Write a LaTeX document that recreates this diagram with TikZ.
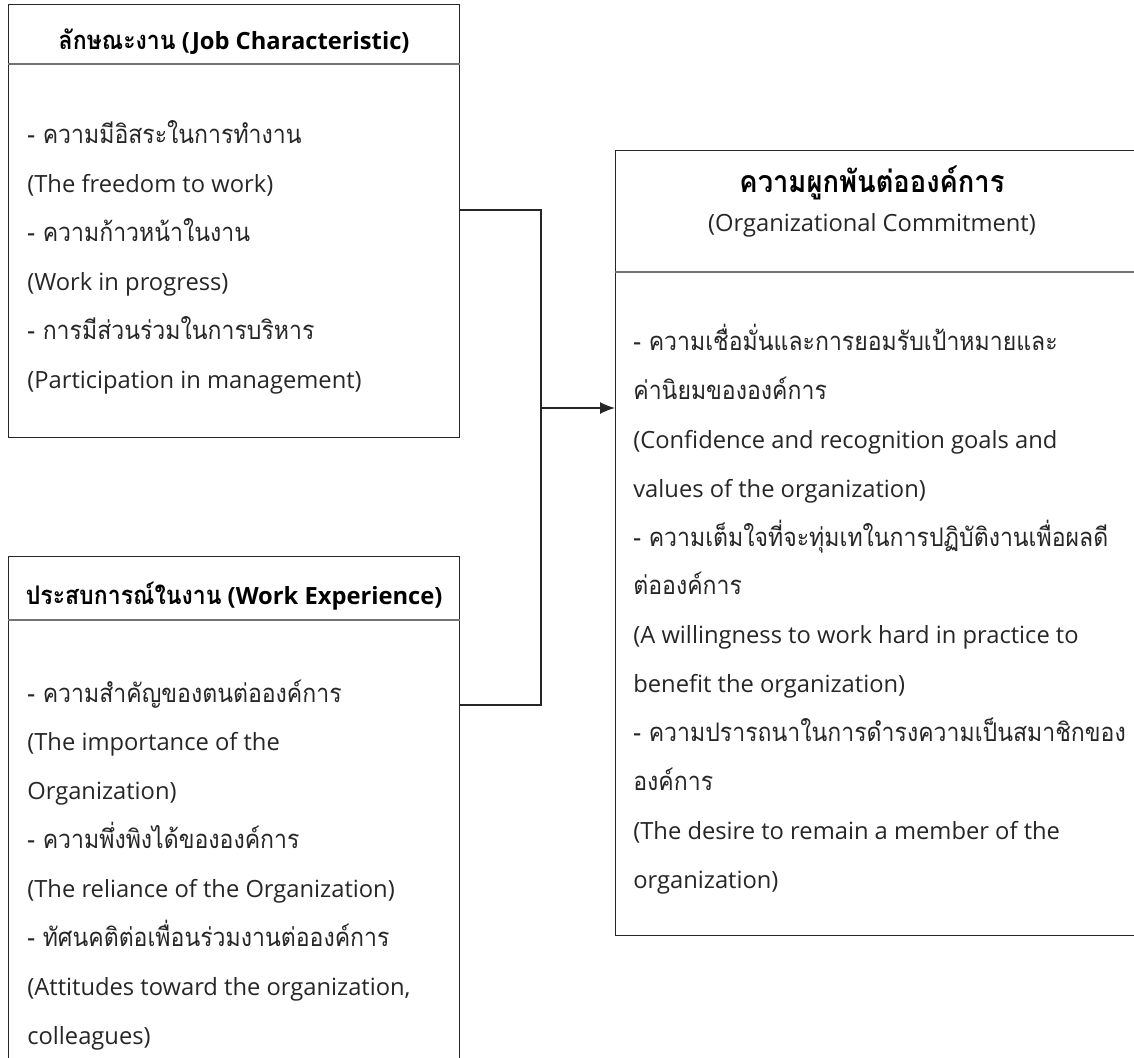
\documentclass[tikz,border=0pt]{standalone}
\usepackage{fontspec}
\setmainfont{Open Sans}
\newfontfamily\thaifont[Script=Thai, Scale=1.08, FakeStretch=0.9]{Loma}
\newcommand{\thaitext}[1]{{\thaifont #1}}
\usetikzlibrary{arrows.meta, positioning}
\tikzset{%
>={Latex[width=2.4mm,length=3mm]},
  % Specifications for style of boxes and texts:
            panel/.style = {draw=black!85, line width=0.7pt, anchor=north west,
                            inner sep=0pt},
            headline/.style = {draw=black!55, line width=0.7pt},
            heading/.style = {anchor=base, inner sep=0pt, text=black,
                            font=\fontsize{13.5}{16}\selectfont\bfseries},
            subheading/.style = {anchor=base, inner sep=0pt, text=black!85,
                            font=\fontsize{13.5}{16}\selectfont},
            % base of a body node = baseline of its last line
            body/.style = {anchor=base west, align=left, inner sep=0pt, text=black!85,
                            font=\fontsize{13.5}{27.8}\selectfont},
            link/.style = {draw=black!85, line width=0.8pt}
}

\begin{document}
\begin{tikzpicture}
                \useasboundingbox (0,0) rectangle (22.68,-21.16);

                % the three boxes
                \node[panel, minimum width=9.02cm, minimum height=8.66cm] (job) at (0.16,-0.08) {};
                \node[panel, minimum width=9.02cm, minimum height=10.6cm] (exp) at (0.16,-11.12) {};
                \node[panel, minimum width=10.5cm, minimum height=15.7cm] (com) at (12.3,-3.0) {};

                \draw[headline] ([yshift=-1.2cm]job.north west) -- ([yshift=-1.2cm]job.north east);
                \draw[headline] ([yshift=-1.28cm]exp.north west) -- ([yshift=-1.28cm]exp.north east);
                \draw[headline] ([yshift=-2.44cm]com.north west) -- ([yshift=-2.44cm]com.north east);

                % headings
                \node[heading] (jobtitle) at ([yshift=-0.92cm]job.north) {\thaitext{ลักษณะงาน} (Job Characteristic)};
                \node[heading] (exptitle) at ([yshift=-0.96cm]exp.north) {\thaitext{ประสบการณ์ในงาน} (Work Experience)};
                \node[heading, font=\fontsize{16}{18}\selectfont\bfseries] (comtitle) at (17.44,-3.84) {\thaitext{ความผูกพันต่อองค์การ}};
                \node[subheading] (comsub) at (17.44,-4.64) {(Organizational Commitment)};

                % contents
                \node[body] (jobtext) at (0.54,-7.76) {%
                \thaitext{- ความมีอิสระในการทำงาน}\\
                (The freedom to work)\\
                \thaitext{- ความก้าวหน้าในงาน}\\
                (Work in progress)\\
                \thaitext{- การมีส่วนร่วมในการบริหาร}\\
                (Participation in management)};

                \node[body] (exptext) at (0.54,-20.88) {%
                \thaitext{- ความสำคัญของตนต่อองค์การ}\\
                (The importance of the\\
                Organization)\\
                \thaitext{- ความพึ่งพิงได้ขององค์การ}\\
                (The reliance of the Organization)\\
                \thaitext{- ทัศนคติต่อเพื่อนร่วมงานต่อองค์การ}\\
                (Attitudes toward the organization,\\
                colleagues)};

                \node[body] (comtext) at (12.66,-17.76) {%
                \thaitext{- ความเชื่อมั่นและการยอมรับเป้าหมายและ}\\
                \thaitext{ค่านิยมขององค์การ}\\
                (Confidence and recognition goals and\\
                values of the organization)\\
                \thaitext{- ความเต็มใจที่จะทุ่มเทในการปฏิบัติงานเพื่อผลดี}\\
                \thaitext{ต่อองค์การ}\\
                (A willingness to work hard in practice to\\
                benefit the organization)\\
                \thaitext{- ความปรารถนาในการดำรงความเป็นสมาชิกของ}\\
                \thaitext{องค์การ}\\
                (The desire to remain a member of the\\
                organization)};

                % connectors
                \coordinate (bustop) at (10.82,-4.2);
                \coordinate (busbot) at (10.82,-14.1);
                \coordinate (busmid) at (10.82,-8.16);
                \draw[link] (job.east |- bustop) -- (bustop) -- (busbot) -- (exp.east |- busbot);
                \draw[link, ->] (busmid) -- (com.west |- busmid);

\end{tikzpicture}
\end{document}
